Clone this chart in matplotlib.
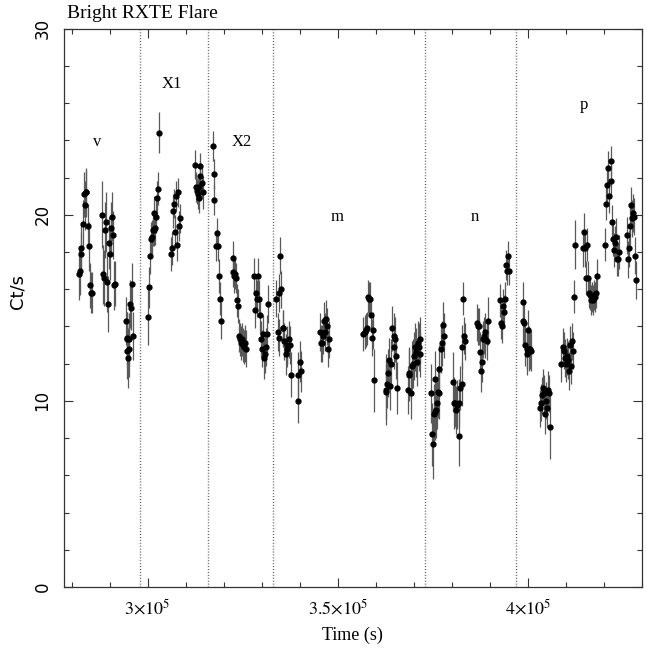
import matplotlib
matplotlib.use("Agg")
import matplotlib.pyplot as plt
import numpy as np
from matplotlib.ticker import MultipleLocator

plt.rcParams['mathtext.fontset'] = 'stix'

# light curve, time in ks, one block per orbit
time_ks = [
    282.0, 282.2, 282.4, 282.6, 282.9, 283.3, 283.5, 283.7, 283.9, 284.3, 284.5, 284.8, 285.0, 285.3,
    288.1, 288.3, 288.6, 288.9, 289.1, 289.4, 289.6, 289.8, 290.1, 290.4, 290.6, 290.9, 291.2, 291.4,
    294.2, 294.5, 294.6, 294.7, 294.9, 295.0, 295.2, 295.4, 295.7, 296.0, 296.2,
    300.0, 300.4, 300.6, 300.9, 301.2, 301.3, 301.6, 301.7, 301.9, 302.2, 302.5, 302.7, 303.0,
    306.2, 306.5, 306.8, 306.9, 307.2, 307.5, 307.7, 308.0, 308.3, 308.5,
    312.4, 312.7, 313.0, 313.3, 313.4, 313.5, 313.8, 313.9, 314.2, 314.5,
    317.1, 317.4, 317.6, 318.0, 318.2, 318.4, 318.8, 319.1, 319.4,
    322.4, 322.6, 322.8, 323.1, 323.3, 323.6, 323.9, 324.1, 324.4, 324.7, 324.9, 325.2, 325.4, 325.7, 326.0,
    328.1, 328.3, 328.5, 328.8, 329.1, 329.3, 329.6, 329.8, 330.1, 330.4, 330.6, 330.9, 331.2, 331.4, 331.6,
    333.9, 334.2, 334.5, 334.7, 334.9, 335.2, 335.5, 335.7, 336.0, 336.3, 336.6, 336.8, 337.1, 337.4, 337.6,
    339.5, 339.7, 340.0, 340.4,
    345.4, 345.7, 346.0, 346.2, 346.5, 346.7, 346.9, 347.2, 347.5, 347.7,
    356.8, 357.1, 357.4, 357.6, 357.9, 358.2, 358.4, 358.8, 359.1, 359.3, 359.5,
    362.6, 362.8, 363.1, 363.3, 363.6, 363.9, 364.1, 364.4, 364.7, 364.9, 365.2, 365.4, 365.7,
    368.4, 368.7, 368.9, 369.2, 369.5, 369.7, 370.0, 370.3, 370.5, 370.8, 371.1, 371.3, 371.6, 371.8,
    374.6, 374.8, 375.0, 375.3, 375.5, 375.7, 376.0, 376.2, 376.3, 376.6, 376.8, 377.1, 377.4, 377.6, 377.9,
    380.4, 380.7, 381.0, 381.2, 381.5, 381.8, 382.0, 382.3, 382.6, 382.7, 383.0, 383.3, 383.5,
    386.7, 386.9, 387.2, 387.5, 387.7, 387.9, 388.2, 388.4, 388.7, 388.9, 389.2, 389.5,
    392.7, 393.1, 393.3, 393.6, 393.9, 394.1, 394.3, 394.6, 394.8, 395.1,
    398.7, 398.9, 399.1, 399.4, 399.7, 399.9, 400.2, 400.4, 400.7, 401.0,
    403.3, 403.5, 403.8, 404.1, 404.3, 404.6, 404.8, 405.1, 405.4, 405.6, 405.9,
    408.9, 409.2, 409.5, 409.7, 410.0, 410.3, 410.5, 410.8, 411.1, 411.3, 411.6, 411.8,
    412.2, 412.5, 414.5, 414.7, 415.0, 415.3, 415.5, 415.8, 416.1, 416.3, 416.6, 416.8, 417.1, 417.4,
    417.6, 417.9, 418.2,
    420.4, 420.7, 421.0, 421.2, 421.5, 421.8, 421.9, 422.2, 422.5, 422.7, 423.0, 423.3, 423.5, 423.8, 424.1,
    426.1, 426.3, 426.6, 426.8, 427.1, 427.4, 427.6, 427.9, 428.2, 428.4,
]

rate = [
    16.8, 17.0, 18.2, 17.9, 19.5, 21.1, 20.5, 21.2, 21.2, 19.4, 18.3, 16.2, 15.8, 15.8,
    20.0, 16.8, 16.6, 19.2, 19.6, 16.4, 15.2, 18.5, 17.9, 19.3, 19.9, 18.9, 16.2, 16.3,
    14.3, 13.3, 12.7, 13.4, 12.3, 12.8, 13.3, 15.2, 15.0, 16.3, 13.5,
    14.5, 16.1, 17.8, 18.7, 18.8, 19.2, 19.2, 20.1, 19.3, 19.9, 20.9, 21.4, 24.4,
    17.9, 18.2, 20.2, 20.6, 19.1, 21.0, 18.4, 21.2, 19.4, 19.8,
    22.7, 21.5, 21.3, 21.1, 20.9, 21.5, 22.1, 22.6, 21.7, 21.2,
    23.7, 22.2, 20.8, 18.3, 19.0, 18.3, 16.7, 15.5, 14.3,
    16.9, 17.7, 16.7, 16.8, 16.6, 15.4, 15.1, 13.5, 13.3, 13.1, 13.3, 13.0, 12.9, 13.1, 12.8,
    16.7, 14.9, 15.8, 15.5, 16.7, 15.5, 14.6, 13.3, 12.8, 13.6, 12.3, 12.5, 12.9, 13.6, 15.2,
    15.5, 13.7, 13.4, 15.8, 17.8, 16.0, 13.9, 13.9, 13.2, 12.5, 12.8, 13.0, 13.3, 13.0, 11.4,
    10.0, 11.4, 12.1, 11.6,
    13.7, 13.1, 13.1, 13.5, 14.3, 13.7, 14.4, 14.0, 12.8, 13.3,
    13.6, 13.7, 13.8, 13.9, 15.6, 15.5, 15.5, 14.6, 13.4, 13.8, 11.1,
    10.5, 10.6, 10.9, 11.5, 12.2, 10.8, 12.0, 13.9, 13.5, 12.9, 13.3, 12.4, 10.7,
    10.6, 11.4, 11.5, 10.4, 11.9, 12.0, 12.4, 12.9, 12.6, 12.1, 13.1, 12.9, 12.5, 13.3,
    10.4, 8.2, 7.7, 9.3, 11.2, 9.4, 9.5, 9.9, 10.5, 10.4, 11.7, 12.8, 13.1, 14.1, 13.5,
    11.0, 9.9, 9.9, 9.5, 9.8, 8.1, 9.9, 10.7, 10.9, 12.9, 15.5, 13.5, 13.2,
    14.2, 14.0, 14.0, 12.6, 11.6, 12.1, 13.3, 13.5, 13.7, 13.3, 13.2, 14.3,
    15.4, 14.2, 14.0, 15.1, 14.8, 15.5, 17.3, 17.0, 17.8, 17.0,
    14.3, 15.3, 14.2, 13.0, 12.5, 12.8, 13.8, 12.8, 12.8, 12.7,
    9.6, 9.9, 10.3, 10.7, 10.4, 9.3, 10.0, 9.6, 10.6, 10.4, 8.6,
    12.0, 12.9, 12.7, 12.3, 12.0, 12.4, 12.2, 11.6, 13.0, 11.9, 13.2, 12.7,
    15.6, 18.4, 18.2, 19.1, 18.2, 16.6, 18.4, 16.6, 15.8, 15.7, 15.4, 15.6, 15.4, 15.7,
    15.6, 15.8, 16.7,
    18.4, 20.6, 21.6, 22.5, 21.0, 22.9, 21.8, 19.6, 18.7, 18.1, 18.5, 18.8, 17.6, 17.6, 18.0,
    18.9, 17.6, 18.2, 19.4, 20.5, 19.8, 20.1, 19.9, 17.8, 16.5,
]

rate_err = [
    1.4, 1.3, 1.3, 1.2, 1.3, 1.2, 1.3, 1.2, 1.3, 1.2, 1.3, 1.2, 1.1, 1.1,
    1.8, 1.6, 1.5, 1.5, 1.6, 1.6, 1.5, 1.4, 1.4, 1.4, 1.3, 1.3, 1.3, 1.2,
    1.3, 1.5, 1.5, 1.4, 1.6, 1.5, 1.4, 1.3, 1.2, 1.1, 1.3,
    1.5, 1.1, 1.0, 0.9, 0.9, 0.9, 0.9, 0.9, 0.9, 0.9, 0.9, 0.9, 1.1,
    0.9, 0.9, 0.9, 0.8, 0.9, 0.8, 0.9, 0.8, 0.8, 0.8,
    0.8, 0.8, 0.7, 0.8, 0.8, 0.7, 0.8, 0.7, 0.8, 0.9,
    0.8, 0.8, 0.8, 0.8, 0.8, 0.8, 0.9, 0.9, 1.0,
    0.8, 0.9, 0.9, 0.8, 0.8, 0.9, 0.9, 0.9, 0.9, 0.9, 0.9, 0.9, 0.9, 1.0, 1.0,
    1.0, 1.0, 1.0, 1.0, 1.0, 1.0, 1.0, 1.0, 1.0, 1.0, 1.1, 1.0, 1.0, 1.0, 1.0,
    1.0, 1.0, 1.0, 1.0, 1.0, 1.0, 1.0, 1.0, 1.0, 1.1, 1.0, 1.0, 1.0, 1.0, 1.2,
    1.2, 1.2, 1.1, 1.1,
    1.0, 1.0, 1.0, 1.0, 1.0, 1.0, 1.0, 1.0, 1.0, 1.0,
    0.9, 0.9, 0.9, 0.9, 0.9, 0.9, 0.9, 0.9, 1.0, 1.0, 1.7,
    1.5, 1.9, 1.3, 1.3, 1.2, 1.3, 1.3, 1.2, 1.2, 1.2, 1.2, 1.2, 1.4,
    1.3, 1.4, 1.4, 1.4, 1.3, 1.3, 1.3, 1.3, 1.3, 1.3, 1.2, 1.3, 1.2, 1.2,
    1.6, 1.7, 1.9, 1.6, 1.5, 1.5, 1.5, 1.4, 1.4, 1.4, 1.3, 1.3, 1.2, 1.2, 1.2,
    1.6, 1.4, 1.3, 1.3, 1.3, 1.6, 1.3, 1.2, 1.2, 1.2, 0.9, 1.0, 1.0,
    1.0, 1.0, 1.0, 1.1, 1.1, 1.1, 1.0, 1.0, 1.0, 1.0, 1.0, 1.3,
    0.9, 0.9, 0.9, 0.9, 0.9, 0.9, 0.8, 0.8, 0.8, 0.8,
    1.2, 1.1, 1.1, 1.1, 1.1, 1.1, 1.1, 1.2, 1.1, 1.1,
    1.0, 1.0, 1.0, 1.0, 1.0, 1.1, 1.0, 1.0, 1.0, 1.0, 1.7,
    1.0, 1.0, 1.0, 1.0, 1.0, 1.0, 1.0, 1.0, 1.0, 1.0, 1.0, 1.0,
    0.9, 1.3, 1.0, 1.0, 1.0, 0.9, 0.9, 0.9, 0.8, 0.8, 0.8, 0.8, 0.8, 0.8,
    0.8, 0.8, 0.9,
    0.9, 0.9, 0.9, 0.9, 0.9, 0.8, 0.9, 0.9, 0.9, 0.9, 0.9, 1.0, 0.9, 0.9, 0.9,
    1.0, 1.0, 1.0, 1.0, 1.0, 1.0, 1.0, 1.0, 1.0, 1.0,
]

# dotted lines splitting the flare into phases
phase_edges_ks = [297.9, 316.0, 333.0, 372.9, 396.9]
phase_names = ['v', 'X1', 'X2', 'm', 'n', 'p']
phase_label_ks = [286.8, 306.5, 324.9, 349.9, 386.0, 414.7]
phase_label_rate = [23.9, 27.0, 23.9, 19.9, 19.9, 25.9]

t = np.array(time_ks) * 1e3

fig = plt.figure(figsize=(6.47, 6.51), dpi=100)
ax = fig.add_axes([0.0989, 0.0983, 0.8929, 0.8577])

for edge in phase_edges_ks:
    ax.axvline(edge * 1e3, color='0.35', lw=1.0, ls=(0, (0.7, 1.4)), zorder=1)

ax.errorbar(t, rate, yerr=rate_err, fmt='o', color='black', ms=3.5,
            ecolor='0.35', elinewidth=0.9, capsize=0, zorder=3)

for name, x, y in zip(phase_names, phase_label_ks, phase_label_rate):
    ax.text(x * 1e3, y, name, ha='center', va='center',
            family='Liberation Serif', fontsize=12)

ax.set_xlim(278e3, 430e3)
ax.set_ylim(0, 30)

ax.set_xticks([300e3, 350e3, 400e3],
              [r'$3{\times}10^{5}$', r'$3.5{\times}10^{5}$', r'$4{\times}10^{5}$'])
ax.xaxis.set_minor_locator(MultipleLocator(1e4))
ax.set_yticks([0, 10, 20, 30])
ax.yaxis.set_minor_locator(MultipleLocator(2))

ax.tick_params(which='both', direction='in', top=True, right=True,
               color='0.2', width=0.8)
ax.tick_params(which='major', length=6.5)
ax.tick_params(which='minor', length=3.4)
ax.tick_params(axis='x', labelsize=13, pad=8)
ax.tick_params(axis='y', labelsize=12, pad=9)
for lab in ax.get_yticklabels():
    lab.set_rotation(90)
    lab.set_va('center')
    lab.set_family('DejaVu Sans')

for sp in ax.spines.values():
    sp.set_color('0.2')
    sp.set_linewidth(0.9)

ax.set_xlabel('Time (s)', family='Liberation Serif', fontsize=13, labelpad=6)
ax.text(-0.08, 0.53, 'Ct/s', transform=ax.transAxes, rotation=90,
        ha='center', va='center', family='DejaVu Sans', fontsize=13)
ax.text(0.005, 1.012, 'Bright RXTE Flare', transform=ax.transAxes,
        ha='left', va='bottom', family='Liberation Serif', fontsize=14)

fig.savefig('out.png', dpi=100)
